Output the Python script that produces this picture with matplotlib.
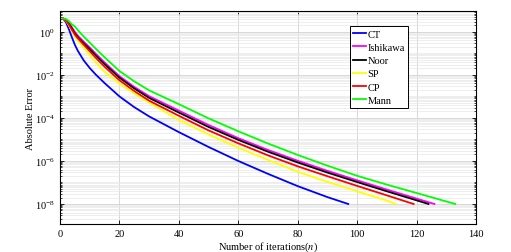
import numpy as np
import matplotlib
matplotlib.use('Agg')
import matplotlib.pyplot as plt
from matplotlib.ticker import LogLocator, FixedLocator, NullFormatter

plt.rcParams['font.family'] = 'serif'
plt.rcParams['font.serif'] = ['Liberation Serif', 'DejaVu Serif']
plt.rcParams['mathtext.fontset'] = 'stix'

# iterations at which the error was read, and log10 of the absolute error
n_ct = [1, 2, 3, 4, 5, 6, 8, 10, 12, 15, 20, 25, 30, 40, 50, 60, 70, 80, 90, 97]
e_ct = [0.62, 0.45, 0.12, -0.25, -0.6, -0.88, -1.33, -1.68, -1.98, -2.38, -3.0,
        -3.5, -3.93, -4.66, -5.35, -6.0, -6.6, -7.17, -7.68, -8.0]

n_ish = [1, 2, 3, 4, 5, 6, 8, 10, 12, 15, 20, 25, 30, 40, 50, 60, 70, 80, 90, 100, 110, 120, 126]
e_ish = [0.62, 0.56, 0.41, 0.21, 0.0, -0.18, -0.46, -0.72, -1.01, -1.42, -2.06, -2.56,
         -2.99, -3.66, -4.33, -4.94, -5.49, -5.99, -6.46, -6.9, -7.33, -7.75, -8.0]

n_noor = [1, 2, 3, 4, 5, 6, 8, 10, 12, 15, 20, 25, 30, 40, 50, 60, 70, 80, 90, 100, 110, 120, 124]
e_noor = [0.62, 0.55, 0.38, 0.16, -0.07, -0.25, -0.53, -0.8, -1.09, -1.5, -2.13, -2.63,
          -3.07, -3.75, -4.42, -5.02, -5.57, -6.07, -6.54, -6.98, -7.41, -7.83, -8.0]

n_sp = [1, 2, 3, 4, 5, 6, 8, 10, 12, 15, 20, 25, 30, 40, 50, 60, 70, 80, 90, 100, 110, 113]
e_sp = [0.62, 0.53, 0.3, 0.05, -0.2, -0.4, -0.74, -1.07, -1.41, -1.86, -2.4, -2.86,
        -3.28, -4.09, -4.77, -5.38, -5.95, -6.5, -6.97, -7.41, -7.84, -8.0]

n_cp = [1, 2, 3, 4, 5, 6, 8, 10, 12, 15, 20, 25, 30, 40, 50, 60, 70, 80, 90, 100, 110, 119]
e_cp = [0.62, 0.54, 0.34, 0.1, -0.13, -0.3, -0.6, -0.9, -1.2, -1.62, -2.25, -2.75,
        -3.2, -3.9, -4.58, -5.18, -5.74, -6.25, -6.71, -7.16, -7.6, -8.0]

n_mann = [1, 2, 3, 4, 5, 6, 8, 10, 12, 15, 20, 25, 30, 40, 50, 60, 70, 80, 90, 100, 110, 120, 133]
e_mann = [0.62, 0.6, 0.5, 0.35, 0.25, 0.08, -0.22, -0.5, -0.78, -1.18, -1.82, -2.3,
          -2.72, -3.36, -4.02, -4.62, -5.19, -5.72, -6.22, -6.69, -7.1, -7.49, -8.0]

series = [
    (n_ct, e_ct, 'CT', (0, 0, 1)),
    (n_ish, e_ish, 'Ishikawa', (1, 0, 1)),
    (n_noor, e_noor, 'Noor', (0, 0, 0)),
    (n_sp, e_sp, 'SP', (1, 1, 0)),
    (n_cp, e_cp, 'CP', (1, 0, 0)),
    (n_mann, e_mann, 'Mann', (0, 1, 0)),
]

fig = plt.figure(figsize=(5.11, 2.53), dpi=100)
ax = fig.add_axes([0.1174, 0.1107, 0.8141, 0.8419])

for n, e, label, color in series:
    ax.semilogy(n, 10.0 ** np.array(e), color=color, lw=1.3, label=label)

ax.set_xlim(0, 140)
ax.set_ylim(10 ** -8.93, 10 ** 0.97)
ax.set_xticks(np.arange(0, 141, 20))
ax.yaxis.set_major_locator(FixedLocator([1e-8, 1e-6, 1e-4, 1e-2, 1e0]))
ax.yaxis.set_minor_locator(LogLocator(base=10, subs=np.arange(1, 10), numticks=50))
ax.yaxis.set_minor_formatter(NullFormatter())

ax.grid(True, which='major', color='#d2d2d2', lw=0.6)
ax.grid(True, which='minor', axis='y', color='#e8e8e8', lw=0.5)
ax.set_axisbelow(True)

ax.tick_params(which='both', direction='in', top=True, right=True, labelsize=7.5)
ax.tick_params(which='major', length=3, width=0.6)
ax.tick_params(which='minor', length=1.5, width=0.5)
for s in ax.spines.values():
    s.set_linewidth(0.8)

ax.set_xlabel(r'Number of iterations($n$)', fontsize=7.5, labelpad=1)
ax.set_ylabel('Absolute Error', fontsize=7.5, labelpad=0)

leg = ax.legend(loc='upper right', bbox_to_anchor=(0.8365, 0.928), borderaxespad=0,
                fontsize=7.5, fancybox=False, edgecolor='black', framealpha=1,
                handlelength=1.3, handletextpad=0.1, labelspacing=0.38,
                borderpad=0.3)
leg.get_frame().set_linewidth(0.7)

fig.savefig('out.png', dpi=100)
